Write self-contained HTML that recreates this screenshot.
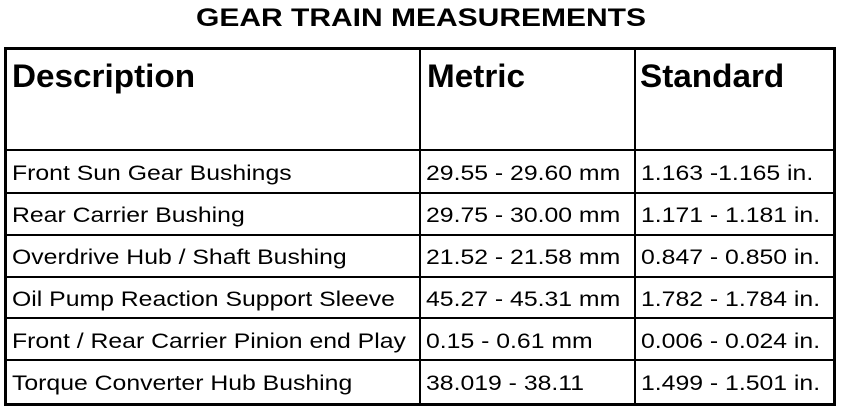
<!DOCTYPE html>
<html><head><style>
body{margin:0;width:864px;height:412px;background:#fff;font-family:"Liberation Sans",Arial,sans-serif;color:#000;position:relative;overflow:hidden}
.t{position:absolute;white-space:nowrap;transform-origin:0 0}
.l{position:absolute;background:#000}
.h{font-weight:bold;font-size:32px;top:58px;transform:scaleX(1.04)}
.b{font-size:21px;transform:scaleX(1.18)}
</style></head><body>
<div class="t" style="left:196px;top:4px;font-weight:bold;font-size:25px;transform:scaleX(1.2)">GEAR TRAIN MEASUREMENTS</div>
<div class="l" style="left:4px;top:47px;width:832px;height:3px"></div>
<div class="l" style="left:4px;top:403px;width:832px;height:3px"></div>
<div class="l" style="left:4px;top:47px;width:3px;height:359px"></div>
<div class="l" style="left:833px;top:47px;width:3px;height:359px"></div>
<div class="l" style="left:419px;top:47px;width:2px;height:358px"></div>
<div class="l" style="left:634px;top:47px;width:2px;height:358px"></div>
<div class="l" style="left:4px;top:149px;width:832px;height:2px"></div>
<div class="l" style="left:4px;top:192px;width:832px;height:2px"></div>
<div class="l" style="left:4px;top:234px;width:832px;height:2px"></div>
<div class="l" style="left:4px;top:276px;width:832px;height:2px"></div>
<div class="l" style="left:4px;top:317px;width:832px;height:2px"></div>
<div class="l" style="left:4px;top:359px;width:832px;height:2px"></div>
<div class="t h" style="left:12px">Description</div>
<div class="t h" style="left:427px">Metric</div>
<div class="t h" style="left:640px">Standard</div>
<div class="t b" style="left:12px;top:162px">Front Sun Gear Bushings</div>
<div class="t b" style="left:426px;top:162px">29.55 - 29.60 mm</div>
<div class="t b" style="left:641px;top:162px">1.163 -1.165 in.</div>
<div class="t b" style="left:12px;top:204px">Rear Carrier Bushing</div>
<div class="t b" style="left:426px;top:204px">29.75 - 30.00 mm</div>
<div class="t b" style="left:641px;top:204px">1.171 - 1.181 in.</div>
<div class="t b" style="left:12px;top:246px">Overdrive Hub / Shaft Bushing</div>
<div class="t b" style="left:426px;top:246px">21.52 - 21.58 mm</div>
<div class="t b" style="left:641px;top:246px">0.847 - 0.850 in.</div>
<div class="t b" style="left:12px;top:288px">Oil Pump Reaction Support Sleeve</div>
<div class="t b" style="left:426px;top:288px">45.27 - 45.31 mm</div>
<div class="t b" style="left:641px;top:288px">1.782 - 1.784 in.</div>
<div class="t b" style="left:12px;top:330px">Front / Rear Carrier Pinion end Play</div>
<div class="t b" style="left:426px;top:330px">0.15 - 0.61 mm</div>
<div class="t b" style="left:641px;top:330px">0.006 - 0.024 in.</div>
<div class="t b" style="left:12px;top:372px">Torque Converter Hub Bushing</div>
<div class="t b" style="left:426px;top:372px">38.019 - 38.11</div>
<div class="t b" style="left:641px;top:372px">1.499 - 1.501 in.</div>
</body></html>
